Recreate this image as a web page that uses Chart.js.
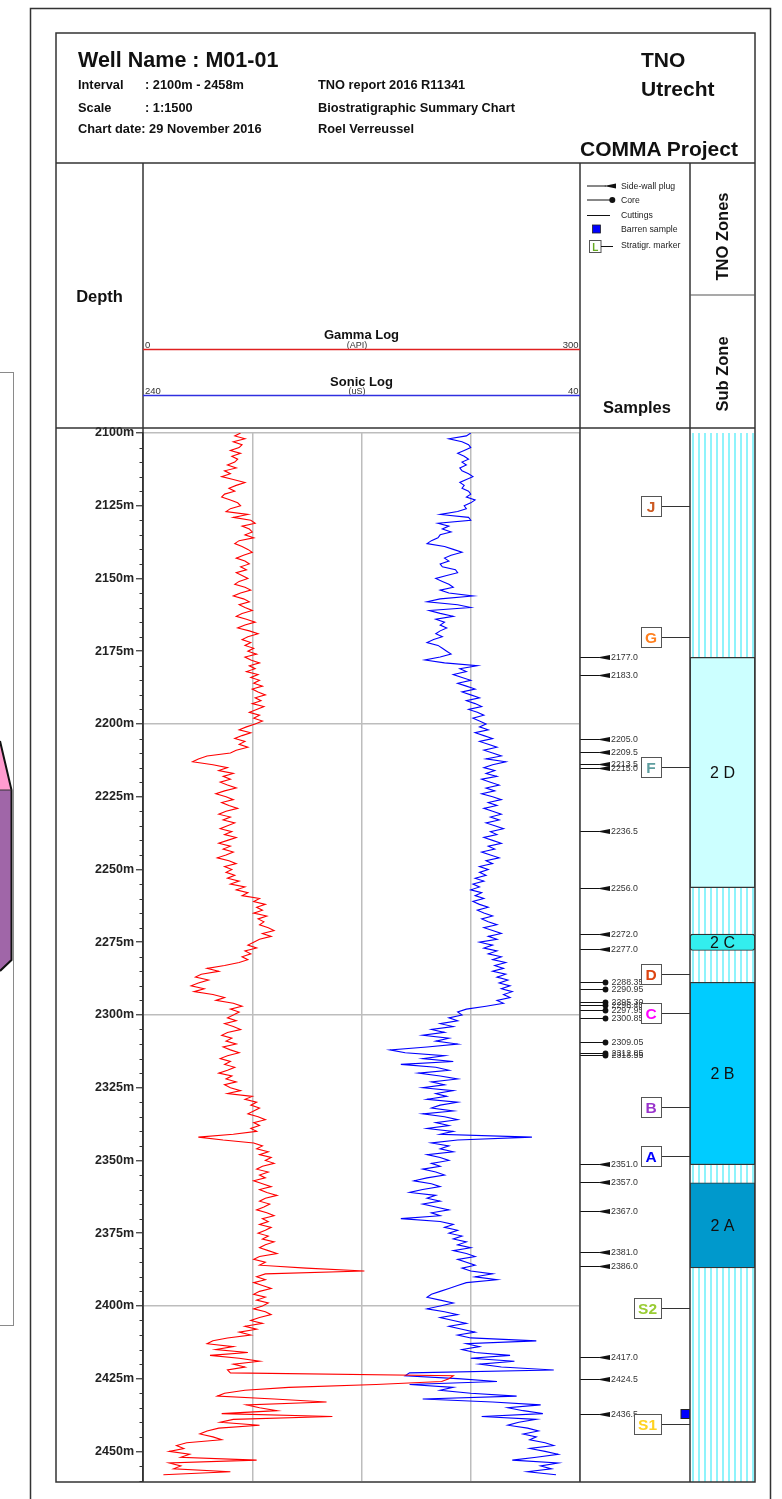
<!DOCTYPE html>
<html><head><meta charset="utf-8">
<script src="https://cdn.jsdelivr.net/npm/chart.js@4.4.1/dist/chart.umd.min.js"></script>
<style>
html,body{margin:0;padding:0;background:#fff;}
#page{position:relative;width:782px;height:1499px;overflow:hidden;background:#fff;}
#page canvas{position:absolute;}
#deco{position:absolute;left:0;top:0;pointer-events:none;}
</style></head><body>
<div id="page">
<canvas id="logs" width="524" height="1070" style="left:56px;top:420px"></canvas>
<canvas id="samples" width="110" height="1070" style="left:580px;top:420px"></canvas>
<canvas id="zones" width="65" height="1070" style="left:690px;top:420px"></canvas>
<svg id="deco" width="782" height="1499" viewBox="0 0 782 1499" font-family="'Liberation Sans', Arial, sans-serif" fill="#111">
 <!-- cut-off panel on the left -->
 <rect x="-6" y="372.5" width="19.5" height="953" fill="none" stroke="#8a8a8a" stroke-width="1"/>
 <polygon points="0,741 11.5,790 0,790" fill="#ff9ccf"/>
 <polygon points="0,790 11.5,790 11.5,960 0,971" fill="#a066a8"/>
 <polyline points="0,741 11.5,790 11.5,960 0,971" fill="none" stroke="#111" stroke-width="2"/>
 <line x1="0" y1="790" x2="11.5" y2="790" stroke="#333" stroke-width="1"/>
 <!-- outer frame -->
 <path d="M30.5,1499 V8.5 H770.5 V1499" fill="none" stroke="#333" stroke-width="1.5"/>
 <!-- inner frame -->
 <rect x="56" y="33" width="699" height="1449" fill="none" stroke="#333" stroke-width="1.5"/>
 <line x1="56" y1="163" x2="755" y2="163" stroke="#333" stroke-width="1.5"/>
 <line x1="56" y1="428" x2="755" y2="428" stroke="#333" stroke-width="1.5"/>
 <line x1="143" y1="163" x2="143" y2="1482" stroke="#333" stroke-width="1.5"/>
 <line x1="580" y1="163" x2="580" y2="1482" stroke="#333" stroke-width="1.5"/>
 <line x1="690" y1="163" x2="690" y2="1482" stroke="#333" stroke-width="1.5"/>
 <line x1="690" y1="295" x2="755" y2="295" stroke="#555" stroke-width="1.2"/>
 <!-- header -->
 <text x="78" y="67" font-size="21.5" font-weight="bold">Well Name : M01-01</text>
 <text x="78" y="88.5" font-size="12.8" font-weight="bold">Interval</text>
 <text x="145" y="88.5" font-size="12.8" font-weight="bold">: 2100m - 2458m</text>
 <text x="78" y="111.5" font-size="12.8" font-weight="bold">Scale</text>
 <text x="145" y="111.5" font-size="12.8" font-weight="bold">: 1:1500</text>
 <text x="78" y="133" font-size="12.8" font-weight="bold">Chart date: 29 November 2016</text>
 <text x="318" y="88.5" font-size="12.8" font-weight="bold">TNO report 2016 R11341</text>
 <text x="318" y="111.5" font-size="12.8" font-weight="bold">Biostratigraphic Summary Chart</text>
 <text x="318" y="133" font-size="12.8" font-weight="bold">Roel Verreussel</text>
 <text x="641" y="67" font-size="21" font-weight="bold">TNO</text>
 <text x="641" y="95.5" font-size="21" font-weight="bold">Utrecht</text>
 <text x="580" y="155.5" font-size="21" font-weight="bold">COMMA Project</text>
 <!-- column headers -->
 <text x="99.5" y="302" font-size="16.5" font-weight="bold" text-anchor="middle">Depth</text>
 <text x="637" y="413" font-size="16.5" font-weight="bold" text-anchor="middle">Samples</text>
 <text transform="translate(728,236.5) rotate(-90)" font-size="16.5" font-weight="bold" text-anchor="middle">TNO Zones</text>
 <text transform="translate(728,374) rotate(-90)" font-size="16.5" font-weight="bold" text-anchor="middle">Sub Zone</text>
 <!-- log headers -->
 <text x="361.5" y="339" font-size="13" font-weight="bold" text-anchor="middle">Gamma Log</text>
 <text x="357" y="348" font-size="9" fill="#333" text-anchor="middle">(API)</text>
 <text x="145" y="347.5" font-size="9.5" fill="#333">0</text>
 <text x="578.5" y="347.5" font-size="9.5" fill="#333" text-anchor="end">300</text>
 <line x1="143" y1="349.5" x2="580" y2="349.5" stroke="#e02020" stroke-width="1.5"/>
 <text x="361.5" y="385.5" font-size="13" font-weight="bold" text-anchor="middle">Sonic Log</text>
 <text x="357" y="394" font-size="9" fill="#333" text-anchor="middle">(uS)</text>
 <text x="145" y="393.5" font-size="9.5" fill="#333">240</text>
 <text x="578.5" y="393.5" font-size="9.5" fill="#333" text-anchor="end">40</text>
 <line x1="143" y1="395.5" x2="580" y2="395.5" stroke="#3030e0" stroke-width="1.5"/>
 <!-- legend -->
 <line x1="587" y1="186" x2="606" y2="186" stroke="#111" stroke-width="1"/>
 <polygon points="604,186 616,183.4 616,188.6" fill="#111"/>
 <text x="621" y="189.3" font-size="8.7" fill="#222">Side-wall plug</text>
 <line x1="587" y1="200" x2="610" y2="200" stroke="#111" stroke-width="1"/>
 <circle cx="612.3" cy="200" r="3" fill="#111"/>
 <text x="621" y="202.7" font-size="8.7" fill="#222">Core</text>
 <line x1="587" y1="215.5" x2="610" y2="215.5" stroke="#111" stroke-width="1"/>
 <text x="621" y="217.7" font-size="8.7" fill="#222">Cuttings</text>
 <rect x="592.5" y="225" width="8" height="8" fill="#0000ff" stroke="#222" stroke-width="0.8"/>
 <text x="621" y="231.7" font-size="8.7" fill="#222">Barren sample</text>
 <rect x="589.5" y="240.5" width="11.5" height="12" fill="#fff" stroke="#555" stroke-width="1"/>
 <text x="595.2" y="250.5" font-size="10" font-weight="bold" fill="#66aa22" text-anchor="middle">L</text>
 <line x1="601" y1="246.5" x2="613" y2="246.5" stroke="#111" stroke-width="1"/>
 <text x="621" y="248.3" font-size="8.7" fill="#222">Stratigr. marker</text>
</svg>
</div>
<script>
// ---------------- data ----------------
const DEPTH_MIN = 2100, DEPTH_MAX = 2460;
const LOG_TOP = 2100, LOG_STEP = 1;   // log sampled every metre from 2100 m
const gammaAPI = [
 67,63,70,62,68,66,60,67,61,65,
 63,58,64,56,60,54,62,70,64,59,
 63,56,54,60,65,67,60,57,72,62,
 74,77,68,73,75,70,76,66,63,68,
 72,75,69,64,70,73,67,71,64,68,
 72,66,63,70,74,67,62,69,73,66,
 70,75,68,64,71,77,70,65,73,79,
 72,68,74,70,76,72,78,70,74,80,
 73,77,71,79,74,80,76,82,75,79,
 84,77,81,75,83,78,73,80,76,82,
 77,71,66,74,68,63,70,66,72,64,
 60,44,38,34,48,58,52,62,55,60,
 53,58,64,56,50,57,62,54,59,65,
 57,52,60,55,63,58,53,61,56,64,
 58,52,60,55,62,57,51,59,64,56,
 61,57,63,58,66,60,70,64,72,68,
 80,76,84,78,82,76,85,79,83,80,
 86,90,82,88,80,76,72,78,70,74,
 68,72,66,56,44,52,40,36,45,38,
 33,42,35,48,56,50,62,68,60,66,
 62,58,64,56,62,67,58,54,61,57,
 64,55,60,66,58,53,60,56,63,58,
 52,61,57,64,56,60,67,58,75,70,
 78,74,80,76,72,79,84,76,80,74,
 78,62,38,55,76,82,78,86,80,88,
 84,90,82,78,86,80,84,76,82,88,
 80,85,92,84,80,87,83,78,85,90,
 82,86,80,88,84,79,86,82,90,84,
 80,86,92,80,76,84,80,112,152,84,
 78,84,76,82,88,80,76,84,78,86,
 82,76,84,88,80,74,82,70,78,66,
 74,58,48,44,62,50,72,46,66,80,
 62,70,58,60,213,210,205,160,100,70,
 56,51,90,126,71,80,92,54,130,62,
 53,80,52,44,39,48,54,30,23,28,
 18,32,26,78,18,26,21,60,14
];
const sonicUS = [
 90,92,100,94,91,90,93,96,93,91,
 94,92,95,94,91,89,92,95,93,94,
 91,90,92,88,90,93,92,96,104,91,
 90,105,100,103,99,104,105,108,110,102,
 98,94,99,102,100,104,103,97,96,101,
 106,103,100,98,104,100,89,104,110,96,
 90,109,104,98,106,102,104,101,104,106,
 103,107,110,105,103,101,99,104,111,102,
 87,95,92,98,94,90,96,92,88,94,
 90,86,92,88,85,91,87,84,89,86,
 83,86,82,88,84,80,86,82,78,84,
 80,76,83,74,80,84,79,83,78,85,
 81,77,83,79,85,80,76,82,78,84,
 80,76,81,77,83,79,75,81,78,84,
 80,76,82,79,85,81,77,83,80,86,
 82,86,83,88,84,89,86,90,85,88,
 84,89,86,82,87,84,80,85,82,78,
 84,80,76,82,78,86,80,84,78,82,
 76,80,74,79,75,80,74,78,73,77,
 72,76,71,75,72,78,75,83,92,96,
 94,100,96,104,98,108,102,112,100,106,
 96,110,127,120,102,112,98,122,106,100,
 114,104,96,108,102,112,98,106,101,110,
 96,104,108,98,112,102,96,106,100,110,
 98,104,62,96,108,100,104,98,110,104,
 100,108,104,112,106,102,110,116,108,104,
 112,118,106,110,104,112,106,100,108,104,
 122,104,98,102,96,100,94,98,92,96,
 90,98,92,88,96,92,88,94,90,80,
 88,78,92,96,100,104,108,110,104,98,
 104,110,102,96,104,98,92,100,94,88,
 96,90,60,92,86,94,88,72,90,70,
 86,76,52,118,120,96,78,118,98,104,
 90,69,112,80,58,73,66,57,85,60,
 68,73,64,59,66,60,63,56,52,63,
 56,50,60,71,50,58,53,64,51
];
const swcDepths = [2177.0,2183.0,2205.0,2209.5,2213.5,2215.0,2236.5,2256.0,2272.0,2277.0,2351.0,2357.0,2367.0,2381.0,2386.0,2417.0,2424.5,2436.5];
const coreDepths = [2288.35,2290.95,2295.30,2296.40,2297.95,2300.85,2309.05,2312.85,2313.55];
const barrenDepths = [2436.5];
const markerNames = ['J','G','F','D','C','B','A','S2','S1'];
const markerDepths = [2125.0,2170.0,2214.5,2285.8,2298.9,2331.3,2348.0,2400.3,2440.1];
const markerColors = ['#cc5a22','#ff7f1e','#5f9ea0','#dd4411','#ff00ff','#9933cc','#0000ff','#99cc33','#ffd21f'];
const zoneNames = ['2 D','2 C','2 B','2 A'];
const zoneTops  = [2177.0,2272.0,2288.5,2357.3];
const zoneBases = [2256.0,2277.6,2351.1,2386.5];
const zoneColors = ['#ccffff','#33eeee','#00ccff','#0099cc'];

// ---------------- charts ----------------
const FONT = "'Liberation Sans', Arial, sans-serif";
Chart.defaults.font.family = FONT;
Chart.defaults.animation = false;
const PAD = {top:13, bottom:8, left:0, right:0};
const hiddenDepth = {type:'linear', reverse:true, min:DEPTH_MIN, max:DEPTH_MAX, display:false};
const noPlugins = {legend:{display:false}, tooltip:{enabled:false}};

const logPoints = (arr) => arr.map((v,i)=>({x:v, y:LOG_TOP + i*LOG_STEP}));

const minorTicks = {
  id:'minorTicks',
  afterDraw(chart){
    const s = chart.scales.y, ctx = chart.ctx, L = chart.chartArea.left;
    ctx.save(); ctx.strokeStyle = '#333'; ctx.lineWidth = 1;
    s.ticks.forEach(t => {
      if (Math.round(t.value) % 25 !== 0) {
        const py = Math.round(s.getPixelForValue(t.value)) + 0.5;
        ctx.beginPath(); ctx.moveTo(L-3.5, py); ctx.lineTo(L, py); ctx.stroke();
      }
    });
    ctx.restore();
  }
};

new Chart(document.getElementById('logs'), {
  type:'scatter',
  data:{datasets:[
    {label:'Gamma Log', data:logPoints(gammaAPI), xAxisID:'xg', yAxisID:'y', showLine:true, borderColor:'#ff0000', borderWidth:1.1, pointRadius:0, tension:0},
    {label:'Sonic Log', data:logPoints(sonicUS), xAxisID:'xs', yAxisID:'y', showLine:true, borderColor:'#0000ff', borderWidth:1.1, pointRadius:0, tension:0}
  ]},
  options:{
    responsive:false, animation:false, layout:{padding:PAD}, plugins:noPlugins,
    scales:{
      y:{type:'linear', reverse:true, min:DEPTH_MIN, max:DEPTH_MAX, position:'left',
         afterFit(s){ s.width = 87; },
         border:{display:true, color:'#333', width:1.5},
         grid:{
           color:c => (c.tick && Math.round(c.tick.value) % 100 === 0) ? '#bdbdbd' : 'rgba(0,0,0,0)',
           tickColor:c => (c.tick && Math.round(c.tick.value) % 25 === 0) ? '#333' : 'rgba(0,0,0,0)',
           lineWidth:1.5, tickLength:7, tickWidth:1.2
         },
         ticks:{stepSize:5, autoSkip:false, padding:2, color:'#222', font:{size:12.5, weight:'bold'},
           callback:v => (Math.round(v) % 25 === 0) ? Math.round(v) + 'm' : ''}
      },
      xg:{type:'linear', position:'bottom', min:0, max:300, afterFit(s){ s.height = 0; },
          ticks:{display:false, stepSize:75}, grid:{color:'#bdbdbd', lineWidth:1.5, drawTicks:false}, border:{display:false}},
      xs:{type:'linear', position:'top', min:40, max:240, reverse:true, display:false}
    }
  },
  plugins:[minorTicks]
});

// samples column
const sampleGlyphs = {
  id:'sampleGlyphs',
  afterDatasetsDraw(chart){
    const ctx = chart.ctx, A = chart.chartArea;
    chart.data.datasets.forEach((ds, di) => {
      const meta = chart.getDatasetMeta(di);
      meta.data.forEach((pt, i) => {
        const x = pt.x, y = Math.round(pt.y) + 0.5;
        ctx.save();
        ctx.strokeStyle = '#111'; ctx.fillStyle = '#111'; ctx.lineWidth = 1;
        if (ds.glyph === 'swc') {
          ctx.beginPath(); ctx.moveTo(A.left, y); ctx.lineTo(x+2, y); ctx.stroke();
          ctx.beginPath(); ctx.moveTo(x, y); ctx.lineTo(x+13, y-2.5); ctx.lineTo(x+13, y+2.5); ctx.closePath(); ctx.fill();
          ctx.fillStyle = '#333'; ctx.font = '8.8px ' + FONT; ctx.textBaseline = 'middle';
          ctx.fillText(ds.depths[i].toFixed(1), x+14, y);
        } else if (ds.glyph === 'core') {
          ctx.beginPath(); ctx.moveTo(A.left, y); ctx.lineTo(x, y); ctx.stroke();
          ctx.beginPath(); ctx.arc(x, y, 2.9, 0, Math.PI*2); ctx.fill();
          ctx.fillStyle = '#333'; ctx.font = '8.8px ' + FONT; ctx.textBaseline = 'middle';
          ctx.fillText(ds.depths[i].toFixed(2), x+6, y);
        } else if (ds.glyph === 'marker') {
          ctx.strokeStyle = '#333';
          ctx.beginPath(); ctx.moveTo(x, y); ctx.lineTo(A.right, y); ctx.stroke();
          ctx.font = 'bold 15.5px ' + FONT;
          const w = Math.max(20, ctx.measureText(ds.names[i]).width + 8);
          ctx.fillStyle = '#fff'; ctx.strokeStyle = '#555';
          ctx.fillRect(x - w, y - 10, w, 20); ctx.strokeRect(Math.round(x - w) + 0.5, y - 10, Math.round(w), 20);
          ctx.fillStyle = ds.colors[i]; ctx.textAlign = 'center'; ctx.textBaseline = 'middle';
          ctx.fillText(ds.names[i], x - w/2, y + 1);
        } else if (ds.glyph === 'barren') {
          ctx.fillStyle = '#0000ff'; ctx.strokeStyle = '#222';
          ctx.fillRect(x - 4.5, y - 5, 9, 9); ctx.strokeRect(x - 4.5, y - 5, 9, 9);
        }
        ctx.restore();
      });
    });
  }
};
new Chart(document.getElementById('samples'), {
  type:'scatter',
  data:{datasets:[
    {label:'Side-wall plug', glyph:'swc', depths:swcDepths, data:swcDepths.map(d=>({x:17, y:d})), pointRadius:0},
    {label:'Core', glyph:'core', depths:coreDepths, data:coreDepths.map(d=>({x:25.5, y:d})), pointRadius:0},
    {label:'Stratigr. marker', glyph:'marker', names:markerNames, colors:markerColors, data:markerDepths.map(d=>({x:81, y:d})), pointRadius:0},
    {label:'Barren sample', glyph:'barren', data:barrenDepths.map(d=>({x:105.5, y:d})), pointRadius:0}
  ]},
  options:{responsive:false, animation:false, layout:{padding:PAD}, plugins:noPlugins,
    scales:{x:{type:'linear', min:0, max:110, display:false}, y:hiddenDepth}},
  plugins:[sampleGlyphs]
});

// zones column
function hatchPattern(){
  const c = document.createElement('canvas'); c.width = 6; c.height = 8;
  const g = c.getContext('2d');
  g.fillStyle = '#ffffff'; g.fillRect(0,0,6,8);
  g.fillStyle = '#8ff3fb'; g.fillRect(2,0,2,8);
  return g.createPattern(c, 'repeat');
}
const zoneLabels = {
  id:'zoneLabels',
  afterDatasetsDraw(chart){
    const ctx = chart.ctx;
    chart.data.datasets.forEach((ds, di) => {
      if (!ds.zoneName) return;
      const el = chart.getDatasetMeta(di).data[0];
      ctx.save(); ctx.fillStyle = '#111'; ctx.font = '16px ' + FONT;
      ctx.textAlign = 'center'; ctx.textBaseline = 'middle';
      ctx.fillText(ds.zoneName, el.x, (el.y + el.base)/2 + 1);
      ctx.restore();
    });
  }
};
new Chart(document.getElementById('zones'), {
  type:'bar',
  data:{labels:['Sub Zone'], datasets:[
    ...zoneNames.map((n,i)=>({label:n, zoneName:n, order:0, data:[[zoneTops[i], zoneBases[i]]], backgroundColor:zoneColors[i],
      borderColor:'#333', borderWidth:1.2, borderSkipped:false, borderRadius: n === '2 C' ? 3 : 0})),
    {label:'unzoned', order:5, data:[[DEPTH_MIN, DEPTH_MAX]], backgroundColor:hatchPattern(), borderWidth:0}
  ]},
  options:{responsive:false, animation:false, layout:{padding:PAD}, plugins:noPlugins,
    datasets:{bar:{grouped:false, barPercentage:1, categoryPercentage:1}},
    scales:{x:{type:'category', display:false}, y:hiddenDepth}},
  plugins:[zoneLabels]
});
</script>
</body></html>
